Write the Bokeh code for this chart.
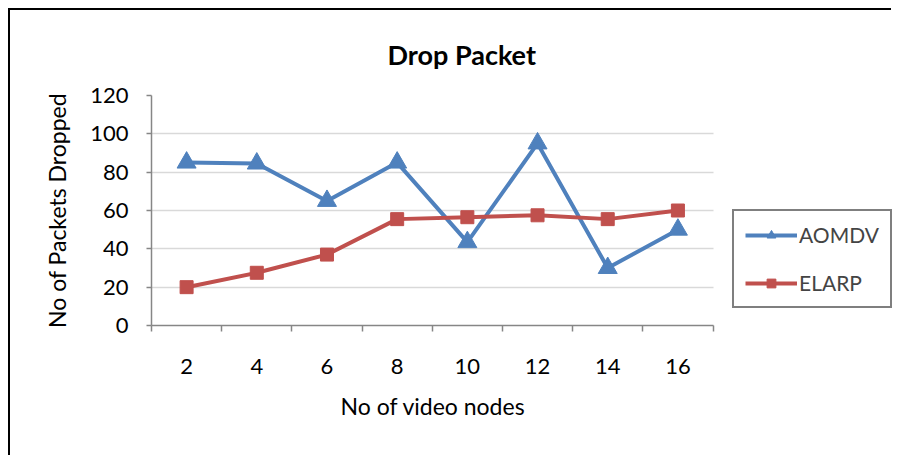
from bokeh.plotting import figure
from bokeh.models import Range1d, FixedTicker, Legend, LegendItem, Title
from bokeh.embed import file_html
from bokeh.resources import INLINE

nodes = [2, 4, 6, 8, 10, 12, 14, 16]
aomdv = [85, 84.5, 65, 85, 43.5, 95, 30, 50]
elarp = [20, 27.5, 37, 55.5, 56.5, 57.5, 55.5, 60]
y_ticks = [0, 20, 40, 60, 80, 100, 120]
x_bounds = [1, 3, 5, 7, 9, 11, 13, 15, 17]

FONT = "Lato"
BLUE = "#4f81bd"
RED = "#c0504d"

# frame spans to the right edge so the legend can sit inside it;
# the axis and grid are bounded to the category area (1..17)
p = figure(width=883, height=447, output_backend="svg", toolbar_location=None,
           x_range=Range1d(1, 1 + 740 / 35), y_range=Range1d(0, 120),
           min_border_left=141, min_border_right=0, min_border_top=85, min_border_bottom=132)
p.styles = {"margin-left": "8px", "margin-top": "8px",
            "border-left": "2px solid black", "border-top": "2px solid black"}
p.outline_line_color = None
p.background_fill_color = "white"
p.border_fill_color = "white"

# title
p.title.text = "Drop Packet"
p.title.text_font = FONT
p.title.text_font_size = "27px"
p.title.text_font_style = "bold"
p.title.text_color = "black"
p.title.align = "left"
p.title.offset = 236
p.title.standoff = 50

# axes
p.yaxis.ticker = FixedTicker(ticks=y_ticks)
p.xaxis.ticker = FixedTicker(ticks=nodes, minor_ticks=x_bounds)
p.xaxis.bounds = (1, 17)
for ax in (p.xaxis[0], p.yaxis[0]):
    ax.axis_line_color = "#868686"
    ax.axis_line_width = 1.5
    ax.major_label_text_font = FONT
    ax.major_label_text_font_size = "22px"
    ax.major_label_text_color = "black"
p.yaxis.axis_label = "No of Packets Dropped"
p.yaxis.axis_label_text_font = FONT
p.yaxis.axis_label_text_font_size = "23px"
p.yaxis.axis_label_text_font_style = "normal"
p.yaxis.axis_label_text_color = "black"
p.yaxis.axis_label_standoff = 16
p.yaxis.major_tick_out = 5
p.yaxis.major_tick_in = 0
p.yaxis.major_tick_line_color = "#868686"
p.yaxis.major_tick_line_width = 1.5
p.yaxis.minor_tick_line_color = None
p.yaxis.major_label_standoff = 18
p.xaxis.major_tick_line_color = None
p.xaxis.minor_tick_out = 6
p.xaxis.minor_tick_in = 0
p.xaxis.minor_tick_line_color = "#868686"
p.xaxis.minor_tick_line_width = 1.5
p.xaxis.major_label_standoff = 27

# x axis title, placed under the category area
p.add_layout(Title(text="No of video nodes", text_font=FONT, text_font_size="23px",
                   text_font_style="normal", text_color="black",
                   align="left", offset=189, standoff=27), "below")

p.xgrid.grid_line_color = None
p.ygrid.grid_line_color = "#d9d9d9"
p.ygrid.grid_line_width = 1.5
p.ygrid.ticker = FixedTicker(ticks=y_ticks)
p.ygrid.cross_bounds = (1, 17)

# series
l1 = p.line(nodes, aomdv, line_color=BLUE, line_width=4)
s1 = p.scatter(nodes, aomdv, marker="triangle", size=19, fill_color=BLUE, line_color=BLUE)
l2 = p.line(nodes, elarp, line_color=RED, line_width=4)
s2 = p.scatter(nodes, elarp, marker="square", size=13, fill_color=RED, line_color=RED)

legend = Legend(items=[LegendItem(label="AOMDV", renderers=[l1, s1]),
                       LegendItem(label="ELARP", renderers=[l2, s2])],
                location=(581, 17), orientation="vertical")
legend.border_line_color = "black"
legend.border_line_width = 2
legend.background_fill_alpha = 1
legend.label_text_font = FONT
legend.label_text_font_size = "21px"
legend.glyph_width = 52
legend.glyph_height = 22
legend.label_height = 22
legend.label_width = 0
legend.label_standoff = 2
legend.spacing = 23
legend.padding = 11
legend.margin = 0
p.add_layout(legend)

open("out.html", "w").write(file_html(p, INLINE))
